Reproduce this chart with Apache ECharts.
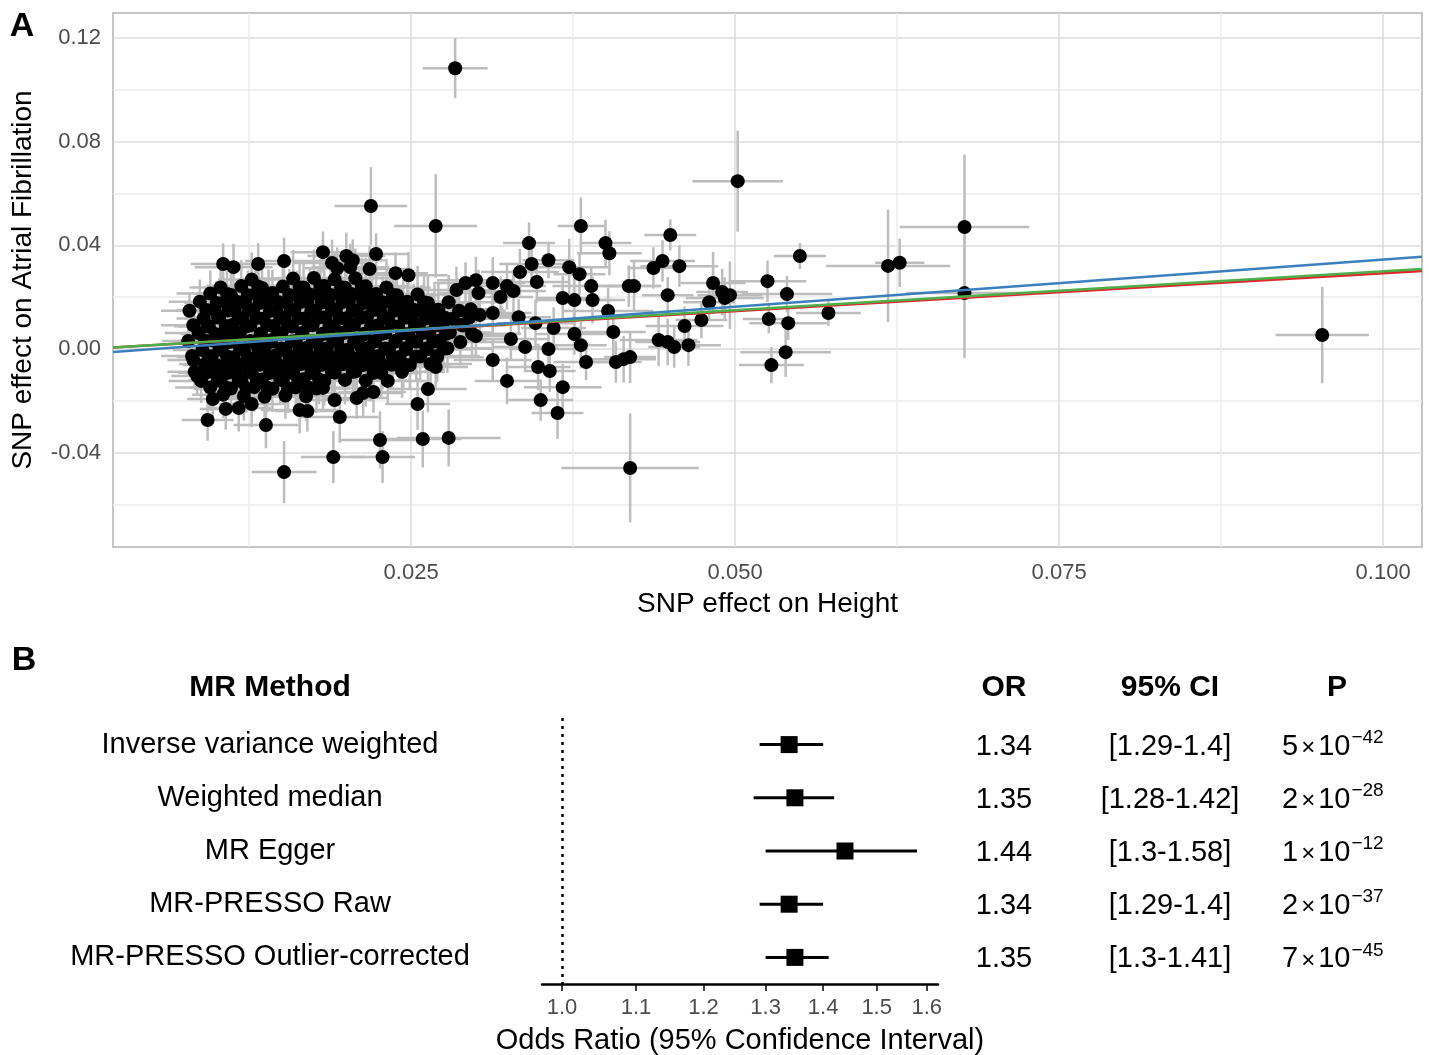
<!DOCTYPE html>
<html>
<head>
<meta charset="utf-8">
<title>MR: height on atrial fibrillation</title>
<script src="https://cdn.jsdelivr.net/npm/echarts@6/dist/echarts.min.js"></script>
<style>
  html, body { margin: 0; padding: 0; background: #fff; }
  #chart { width: 1429px; height: 1055px; }
</style>
</head>
<body>
<div id="chart"></div>
<script>
// ---- panel A: per-SNP effects ----
// isolated points first, then the dense cloud column by column
const snpX = [
  0.0284, 0.0502, 0.0269, 0.0381, 0.0341, 0.0343, 0.0356, 0.0347, 0.0334, 0.0400,
  0.0403, 0.0372, 0.0380, 0.0389, 0.0390, 0.0367, 0.0376, 0.0418, 0.0422, 0.0402,
  0.0437, 0.0444, 0.0450, 0.0457, 0.0448, 0.0483, 0.0490, 0.0496, 0.0492, 0.0480,
  0.0525, 0.0550, 0.0540, 0.0572, 0.0526, 0.0541, 0.0539, 0.0528, 0.0474, 0.0461,
  0.0464, 0.0441, 0.0448, 0.0453, 0.0406, 0.0376, 0.0381, 0.0385, 0.0408, 0.0414,
  0.0419, 0.0360, 0.0346, 0.0333, 0.0327, 0.0338, 0.0356, 0.0348, 0.0357, 0.0367,
  0.0350, 0.0363, 0.0313, 0.0324, 0.0263, 0.0255, 0.0259, 0.0279, 0.0419, 0.0300,
  0.0289, 0.0302, 0.0296, 0.0303, 0.0313, 0.0324, 0.0329, 0.0313, 0.0319, 0.0300,
  0.0292, 0.0285, 0.0248, 0.0269, 0.0677, 0.0677, 0.0953, 0.0618, 0.0627, 0.0219,
  0.0152, 0.0190, 0.0226, 0.0228, 0.0093, 0.0138, 0.0195, 0.0107, 0.0117, 0.0097,
  0.0127, 0.0164, 0.0170, 0.0191, 0.0208, 0.0213, 0.0221, 0.0232, 0.0085, 0.0082,
  0.0105, 0.0113, 0.0132, 0.0152, 0.0182, 0.0189, 0.0193, 0.0200, 0.0205, 0.0203,
  0.0223, 0.0218, 0.0238, 0.0182,
  0.0079, 0.0082, 0.0078, 0.0081, 0.0083,
  0.0087, 0.0090, 0.0086, 0.0089, 0.0091, 0.0088,
  0.0095, 0.0098, 0.0094, 0.0097, 0.0096, 0.0099, 0.0095,
  0.0103, 0.0106, 0.0102, 0.0105, 0.0104, 0.0107, 0.0103, 0.0105,
  0.0111, 0.0114, 0.0112, 0.0110, 0.0113, 0.0115, 0.0111,
  0.0119, 0.0122, 0.0120, 0.0118, 0.0121, 0.0123, 0.0119, 0.0121,
  0.0127, 0.0130, 0.0128, 0.0126, 0.0129, 0.0131, 0.0127, 0.0129,
  0.0135, 0.0138, 0.0136, 0.0134, 0.0137, 0.0139, 0.0135, 0.0137,
  0.0143, 0.0146, 0.0144, 0.0142, 0.0145, 0.0147, 0.0143,
  0.0151, 0.0154, 0.0152, 0.0150, 0.0153, 0.0155, 0.0151, 0.0153,
  0.0159, 0.0162, 0.0160, 0.0158, 0.0161, 0.0163, 0.0159, 0.0161,
  0.0167, 0.0170, 0.0168, 0.0166, 0.0169, 0.0171, 0.0167, 0.0169,
  0.0175, 0.0178, 0.0176, 0.0174, 0.0177, 0.0179, 0.0175, 0.0177,
  0.0183, 0.0186, 0.0184, 0.0182, 0.0185, 0.0187, 0.0183,
  0.0191, 0.0194, 0.0192, 0.0190, 0.0193, 0.0195, 0.0191,
  0.0199, 0.0202, 0.0200, 0.0198, 0.0201, 0.0203, 0.0199,
  0.0207, 0.0210, 0.0208, 0.0206, 0.0209, 0.0211, 0.0207,
  0.0215, 0.0218, 0.0216, 0.0214, 0.0217, 0.0219, 0.0215,
  0.0223, 0.0226, 0.0224, 0.0222, 0.0225, 0.0227,
  0.0231, 0.0234, 0.0232, 0.0230, 0.0233, 0.0235,
  0.0239, 0.0242, 0.0240, 0.0238, 0.0241, 0.0243,
  0.0247, 0.0250, 0.0248, 0.0246, 0.0249,
  0.0255, 0.0258, 0.0256, 0.0254, 0.0257,
  0.0263, 0.0266, 0.0264, 0.0262, 0.0265,
  0.0271, 0.0274, 0.0272, 0.0270,
  0.0279, 0.0282, 0.0280, 0.0278,
  0.0287, 0.0290, 0.0288,
  0.0295, 0.0297,
  0.0092, 0.0093, 0.0091, 0.0094, 0.0092,
  0.0100, 0.0101, 0.0099, 0.0102, 0.0100, 0.0101,
  0.0108, 0.0109, 0.0107, 0.0110, 0.0108, 0.0109, 0.0107,
  0.0116, 0.0117, 0.0115, 0.0118, 0.0116, 0.0117,
  0.0124, 0.0125, 0.0123, 0.0126, 0.0124, 0.0125, 0.0123,
  0.0132, 0.0133, 0.0131, 0.0134, 0.0132, 0.0133, 0.0131,
  0.0140, 0.0141, 0.0139, 0.0142, 0.0140, 0.0141, 0.0139,
  0.0148, 0.0149, 0.0147, 0.0150, 0.0148, 0.0149,
  0.0156, 0.0157, 0.0155, 0.0158, 0.0156, 0.0157, 0.0155,
  0.0164, 0.0165, 0.0163, 0.0166, 0.0164, 0.0165, 0.0163,
  0.0172, 0.0173, 0.0171, 0.0174, 0.0172, 0.0173, 0.0171,
  0.0180, 0.0181, 0.0179, 0.0182, 0.0180, 0.0181, 0.0179,
  0.0188, 0.0189, 0.0187, 0.0190, 0.0188, 0.0189,
  0.0196, 0.0197, 0.0195, 0.0198, 0.0196, 0.0197,
  0.0204, 0.0205, 0.0203, 0.0206, 0.0204, 0.0205,
  0.0212, 0.0213, 0.0211, 0.0214, 0.0212, 0.0213,
  0.0220, 0.0221, 0.0219, 0.0222, 0.0220, 0.0221,
  0.0228, 0.0229, 0.0227, 0.0230, 0.0228,
  0.0236, 0.0237, 0.0235, 0.0238, 0.0236,
  0.0244, 0.0245, 0.0243, 0.0246, 0.0244,
  0.0252, 0.0253, 0.0251, 0.0254,
  0.0260, 0.0261, 0.0259, 0.0262,
  0.0268, 0.0269, 0.0267, 0.0270,
  0.0276, 0.0277, 0.0275
];
const snpY = [
  0.1084, 0.0648, 0.0475, 0.0475, 0.0409, 0.0328, 0.0343, 0.0259, 0.0297, 0.0409,
  0.0370, 0.0316, 0.0289, 0.0243, 0.0189, 0.0197, 0.0189, 0.0243, 0.0243, 0.0147,
  0.0313, 0.0340, 0.0440, 0.0320, 0.0208, 0.0255, 0.0220, 0.0208, 0.0197, 0.0181,
  0.0262, 0.0359, 0.0212, 0.0139, 0.0116, 0.0100, -0.0012, -0.0062, 0.0112, 0.0089,
  0.0015, 0.0035, 0.0027, 0.0008, 0.0066, 0.0058, 0.0015, -0.0050, -0.0050, -0.0039,
  -0.0031, 0.0081, 0.0100, 0.0123, 0.0039, 0.0008, 0.0000, -0.0069, -0.0085, -0.0147,
  -0.0197, -0.0247, -0.0042, -0.0123, -0.0154, -0.0212, -0.0347, -0.0343, -0.0459, 0.0050,
  0.0093, 0.0216, 0.0154, 0.0131, 0.0255, 0.0243, 0.0224, 0.0139, 0.0201, 0.0266,
  0.0255, 0.0228, 0.0285, -0.0069, 0.0471, 0.0216, 0.0054, 0.0321, 0.0333, 0.0552,
  -0.0475, -0.0417, -0.0351, -0.0417, -0.0274, -0.0293, -0.0262, -0.0231, -0.0228, -0.0193,
  -0.0212, -0.0235, -0.0239, -0.0197, -0.0189, -0.0170, -0.0166, -0.0123, -0.0104, -0.0042,
  0.0328, 0.0316, 0.0328, 0.0340, 0.0374, 0.0332, 0.0312, 0.0359, 0.0343, 0.0316,
  0.0367, 0.0309, 0.0293, -0.0150,
  0.0148, 0.0092, 0.0031, -0.0027, -0.0088,
  0.0183, 0.0118, 0.0062, -0.0004, -0.0058, -0.0123,
  0.0214, 0.0152, 0.0087, 0.0033, -0.0028, -0.0094, -0.0148,
  0.0238, 0.0181, 0.0124, 0.0058, 0.0003, -0.0062, -0.0118, -0.0176,
  0.0209, 0.0147, 0.0093, 0.0027, -0.0032, -0.0088, -0.0152,
  0.0243, 0.0178, 0.0121, 0.0063, -0.0004, -0.0057, -0.0124, -0.0181,
  0.0268, 0.0213, 0.0149, 0.0091, 0.0028, -0.0033, -0.0092, -0.0147,
  0.0236, 0.0184, 0.0117, 0.0059, 0.0006, -0.0061, -0.0118, -0.0184,
  0.0216, 0.0148, 0.0089, 0.0034, -0.0026, -0.0089, -0.0153,
  0.0241, 0.0179, 0.0122, 0.0061, -0.0002, -0.0063, -0.0121, -0.0179,
  0.0272, 0.0207, 0.0153, 0.0087, 0.0031, -0.0029, -0.0093, -0.0148,
  0.0238, 0.0183, 0.0118, 0.0062, 0.0004, -0.0059, -0.0117, -0.0182,
  0.0274, 0.0211, 0.0148, 0.0092, 0.0027, -0.0031, -0.0089, -0.0152,
  0.0243, 0.0178, 0.0123, 0.0058, 0.0002, -0.0061, -0.0123,
  0.0269, 0.0212, 0.0151, 0.0088, 0.0033, -0.0028, -0.0091,
  0.0237, 0.0182, 0.0119, 0.0064, -0.0003, -0.0058, -0.0119,
  0.0273, 0.0209, 0.0147, 0.0093, 0.0028, -0.0032, -0.0087,
  0.0242, 0.0177, 0.0124, 0.0057, 0.0004, -0.0062, -0.0122,
  0.0212, 0.0149, 0.0091, 0.0029, -0.0027, -0.0092,
  0.0238, 0.0181, 0.0118, 0.0062, 0.0001, -0.0061,
  0.0208, 0.0153, 0.0087, 0.0032, -0.0031, -0.0088,
  0.0183, 0.0119, 0.0058, 0.0003, -0.0062,
  0.0211, 0.0147, 0.0092, 0.0028, -0.0029,
  0.0178, 0.0123, 0.0061, -0.0002, -0.0058,
  0.0152, 0.0088, 0.0033, -0.0027,
  0.0181, 0.0117, 0.0064, 0.0003,
  0.0148, 0.0091, 0.0027,
  0.0122, 0.0059,
  0.0151, 0.0088, 0.0032, -0.0031, -0.0091,
  0.0178, 0.0122, 0.0058, -0.0003, -0.0062, -0.0121,
  0.0212, 0.0149, 0.0089, 0.0032, -0.0029, -0.0091, -0.0148,
  0.0182, 0.0118, 0.0061, 0.0002, -0.0059, -0.0118,
  0.0208, 0.0152, 0.0088, 0.0031, -0.0032, -0.0087, -0.0151,
  0.0241, 0.0178, 0.0121, 0.0058, 0.0003, -0.0061, -0.0119,
  0.0212, 0.0147, 0.0092, 0.0028, -0.0031, -0.0092, -0.0149,
  0.0181, 0.0121, 0.0059, 0.0002, -0.0062, -0.0118,
  0.0209, 0.0151, 0.0091, 0.0029, -0.0028, -0.0089, -0.0152,
  0.0238, 0.0182, 0.0119, 0.0061, -0.0002, -0.0058, -0.0122,
  0.0211, 0.0148, 0.0092, 0.0031, -0.0029, -0.0091, -0.0149,
  0.0242, 0.0179, 0.0122, 0.0059, 0.0001, -0.0061, -0.0118,
  0.0209, 0.0152, 0.0088, 0.0032, -0.0031, -0.0089,
  0.0239, 0.0181, 0.0118, 0.0062, -0.0002, -0.0059,
  0.0212, 0.0149, 0.0091, 0.0028, -0.0032, -0.0088,
  0.0241, 0.0178, 0.0121, 0.0059, 0.0003, -0.0062,
  0.0208, 0.0151, 0.0089, 0.0031, -0.0028, -0.0092,
  0.0181, 0.0122, 0.0058, 0.0002, -0.0061,
  0.0209, 0.0148, 0.0092, 0.0029, -0.0031,
  0.0178, 0.0121, 0.0061, -0.0001, -0.0058,
  0.0152, 0.0089, 0.0031, -0.0029,
  0.0181, 0.0118, 0.0062, 0.0002,
  0.0149, 0.0092, 0.0028, -0.0032,
  0.0121, 0.0059, 0.0001
];
// standard errors drawn as the grey crosses
const snpSeX = [
  0.0025, 0.0035, 0.0032, 0.0018, 0.0020, 0.0025, 0.0020, 0.0025, 0.0030, 0.0020,
  0.0025, 0.0030, 0.0020, 0.0030, 0.0025, 0.0020, 0.0030, 0.0025, 0.0020, 0.0035,
  0.0020, 0.0025, 0.0020, 0.0030, 0.0020, 0.0025, 0.0020, 0.0025, 0.0030, 0.0020,
  0.0030, 0.0020, 0.0035, 0.0025, 0.0020, 0.0030, 0.0035, 0.0025, 0.0020, 0.0030,
  0.0025, 0.0030, 0.0025, 0.0020, 0.0025, 0.0030, 0.0020, 0.0025, 0.0020, 0.0025,
  0.0020, 0.0025, 0.0030, 0.0025, 0.0030, 0.0025, 0.0030, 0.0025, 0.0020, 0.0030,
  0.0025, 0.0020, 0.0030, 0.0025, 0.0030, 0.0025, 0.0030, 0.0040, 0.0053, 0.0025,
  0.0030, 0.0030, 0.0025, 0.0030, 0.0025, 0.0030, 0.0025, 0.0030, 0.0025, 0.0030,
  0.0025, 0.0030, 0.0030, 0.0025, 0.0050, 0.0045, 0.0036, 0.0048, 0.0019, 0.0028,
  0.0025, 0.0025, 0.0030, 0.0025, 0.0020, 0.0025, 0.0030, 0.0020, 0.0025, 0.0020,
  0.0025, 0.0030, 0.0025, 0.0030, 0.0025, 0.0030, 0.0025, 0.0030, 0.0020, 0.0020,
  0.0025, 0.0030, 0.0025, 0.0030, 0.0025, 0.0030, 0.0025, 0.0030, 0.0025, 0.0030,
  0.0025, 0.0030, 0.0025, 0.0030,
  0.0022, 0.0025, 0.0020, 0.0024, 0.0021,
  0.0024, 0.0021, 0.0026, 0.0023, 0.0020, 0.0025,
  0.0026, 0.0022, 0.0024, 0.0021, 0.0025, 0.0023, 0.0027,
  0.0024, 0.0027, 0.0022, 0.0025, 0.0023, 0.0026, 0.0021, 0.0024,
  0.0025, 0.0022, 0.0028, 0.0024, 0.0026, 0.0023, 0.0025,
  0.0027, 0.0024, 0.0026, 0.0022, 0.0025, 0.0028, 0.0023, 0.0026,
  0.0026, 0.0023, 0.0027, 0.0025, 0.0022, 0.0026, 0.0024, 0.0028,
  0.0028, 0.0025, 0.0023, 0.0027, 0.0024, 0.0026, 0.0029, 0.0025,
  0.0027, 0.0024, 0.0028, 0.0025, 0.0023, 0.0026, 0.0029,
  0.0029, 0.0026, 0.0024, 0.0028, 0.0025, 0.0027, 0.0030, 0.0026,
  0.0028, 0.0025, 0.0029, 0.0026, 0.0024, 0.0027, 0.0030, 0.0025,
  0.0030, 0.0027, 0.0025, 0.0029, 0.0026, 0.0028, 0.0031, 0.0027,
  0.0029, 0.0026, 0.0030, 0.0027, 0.0025, 0.0028, 0.0031, 0.0026,
  0.0031, 0.0028, 0.0026, 0.0030, 0.0027, 0.0029, 0.0032,
  0.0030, 0.0027, 0.0031, 0.0028, 0.0026, 0.0029, 0.0032,
  0.0032, 0.0029, 0.0027, 0.0031, 0.0028, 0.0030, 0.0033,
  0.0031, 0.0028, 0.0032, 0.0029, 0.0027, 0.0030, 0.0033,
  0.0033, 0.0030, 0.0028, 0.0032, 0.0029, 0.0031, 0.0034,
  0.0032, 0.0029, 0.0033, 0.0030, 0.0028, 0.0031,
  0.0034, 0.0031, 0.0029, 0.0033, 0.0030, 0.0032,
  0.0033, 0.0030, 0.0034, 0.0031, 0.0029, 0.0032,
  0.0035, 0.0032, 0.0030, 0.0034, 0.0031,
  0.0034, 0.0031, 0.0035, 0.0032, 0.0030,
  0.0036, 0.0033, 0.0031, 0.0035, 0.0032,
  0.0035, 0.0032, 0.0036, 0.0033,
  0.0037, 0.0034, 0.0032, 0.0036,
  0.0036, 0.0033, 0.0037,
  0.0035, 0.0038,
  0.0023, 0.0026, 0.0021, 0.0025, 0.0022,
  0.0025, 0.0022, 0.0027, 0.0024, 0.0026, 0.0023,
  0.0024, 0.0027, 0.0023, 0.0026, 0.0022, 0.0025, 0.0028,
  0.0026, 0.0023, 0.0028, 0.0025, 0.0022, 0.0027,
  0.0025, 0.0028, 0.0024, 0.0027, 0.0023, 0.0026, 0.0029,
  0.0027, 0.0024, 0.0029, 0.0026, 0.0023, 0.0028, 0.0025,
  0.0026, 0.0029, 0.0025, 0.0028, 0.0024, 0.0027, 0.0030,
  0.0028, 0.0025, 0.0030, 0.0027, 0.0024, 0.0029,
  0.0027, 0.0030, 0.0026, 0.0029, 0.0025, 0.0028, 0.0031,
  0.0029, 0.0026, 0.0031, 0.0028, 0.0025, 0.0030, 0.0027,
  0.0028, 0.0031, 0.0027, 0.0030, 0.0026, 0.0029, 0.0032,
  0.0030, 0.0027, 0.0032, 0.0029, 0.0026, 0.0031, 0.0028,
  0.0029, 0.0032, 0.0028, 0.0031, 0.0027, 0.0030,
  0.0031, 0.0028, 0.0033, 0.0030, 0.0027, 0.0032,
  0.0030, 0.0033, 0.0029, 0.0032, 0.0028, 0.0031,
  0.0032, 0.0029, 0.0034, 0.0031, 0.0028, 0.0033,
  0.0031, 0.0034, 0.0030, 0.0033, 0.0029, 0.0032,
  0.0033, 0.0030, 0.0035, 0.0032, 0.0029,
  0.0032, 0.0035, 0.0031, 0.0034, 0.0030,
  0.0034, 0.0031, 0.0036, 0.0033, 0.0030,
  0.0033, 0.0036, 0.0032, 0.0035,
  0.0035, 0.0032, 0.0037, 0.0034,
  0.0034, 0.0037, 0.0033, 0.0036,
  0.0036, 0.0033, 0.0037
];
const snpSeY = [
  0.0116, 0.0195, 0.0200, 0.0110, 0.0080, 0.0090, 0.0070, 0.0080, 0.0090, 0.0090,
  0.0085, 0.0110, 0.0080, 0.0070, 0.0090, 0.0085, 0.0100, 0.0080, 0.0100, 0.0090,
  0.0080, 0.0080, 0.0060, 0.0080, 0.0070, 0.0120, 0.0090, 0.0130, 0.0080, 0.0070,
  0.0080, 0.0050, 0.0070, 0.0050, 0.0055, 0.0065, 0.0095, 0.0070, 0.0070, 0.0075,
  0.0080, 0.0100, 0.0090, 0.0080, 0.0090, 0.0080, 0.0090, 0.0070, 0.0080, 0.0090,
  0.0100, 0.0080, 0.0090, 0.0070, 0.0080, 0.0090, 0.0080, 0.0090, 0.0080, 0.0090,
  0.0080, 0.0100, 0.0080, 0.0090, 0.0090, 0.0100, 0.0110, 0.0110, 0.0210, 0.0080,
  0.0090, 0.0090, 0.0080, 0.0090, 0.0100, 0.0090, 0.0080, 0.0090, 0.0080, 0.0090,
  0.0080, 0.0090, 0.0090, 0.0080, 0.0280, 0.0250, 0.0186, 0.0217, 0.0093, 0.0150,
  0.0120, 0.0100, 0.0110, 0.0100, 0.0080, 0.0090, 0.0100, 0.0080, 0.0090, 0.0080,
  0.0090, 0.0090, 0.0080, 0.0090, 0.0080, 0.0090, 0.0080, 0.0090, 0.0070, 0.0070,
  0.0080, 0.0090, 0.0080, 0.0090, 0.0080, 0.0090, 0.0080, 0.0090, 0.0080, 0.0090,
  0.0080, 0.0090, 0.0080, 0.0090,
  0.0070, 0.0080, 0.0075, 0.0085, 0.0070,
  0.0085, 0.0070, 0.0090, 0.0080, 0.0075, 0.0085,
  0.0090, 0.0075, 0.0080, 0.0085, 0.0070, 0.0080, 0.0090,
  0.0095, 0.0080, 0.0085, 0.0075, 0.0090, 0.0080, 0.0085, 0.0090,
  0.0085, 0.0090, 0.0075, 0.0080, 0.0085, 0.0090, 0.0080,
  0.0100, 0.0085, 0.0080, 0.0090, 0.0075, 0.0085, 0.0090, 0.0095,
  0.0105, 0.0090, 0.0085, 0.0080, 0.0090, 0.0085, 0.0080, 0.0095,
  0.0095, 0.0090, 0.0080, 0.0085, 0.0075, 0.0090, 0.0085, 0.0095,
  0.0090, 0.0085, 0.0080, 0.0090, 0.0075, 0.0085, 0.0090,
  0.0100, 0.0090, 0.0085, 0.0080, 0.0090, 0.0085, 0.0095, 0.0090,
  0.0110, 0.0095, 0.0085, 0.0090, 0.0080, 0.0085, 0.0090, 0.0095,
  0.0105, 0.0090, 0.0085, 0.0080, 0.0090, 0.0085, 0.0090, 0.0095,
  0.0110, 0.0095, 0.0090, 0.0085, 0.0080, 0.0090, 0.0085, 0.0095,
  0.0105, 0.0095, 0.0085, 0.0090, 0.0080, 0.0090, 0.0095,
  0.0110, 0.0100, 0.0090, 0.0085, 0.0080, 0.0090, 0.0095,
  0.0105, 0.0095, 0.0090, 0.0085, 0.0090, 0.0085, 0.0095,
  0.0115, 0.0100, 0.0090, 0.0085, 0.0090, 0.0085, 0.0095,
  0.0110, 0.0095, 0.0090, 0.0085, 0.0090, 0.0085, 0.0100,
  0.0100, 0.0095, 0.0085, 0.0090, 0.0085, 0.0095,
  0.0110, 0.0100, 0.0090, 0.0085, 0.0090, 0.0095,
  0.0105, 0.0095, 0.0090, 0.0085, 0.0090, 0.0100,
  0.0100, 0.0095, 0.0090, 0.0085, 0.0095,
  0.0110, 0.0100, 0.0090, 0.0095, 0.0090,
  0.0105, 0.0095, 0.0090, 0.0090, 0.0095,
  0.0100, 0.0095, 0.0090, 0.0095,
  0.0105, 0.0100, 0.0090, 0.0095,
  0.0100, 0.0095, 0.0090,
  0.0100, 0.0095,
  0.0080, 0.0075, 0.0085, 0.0080, 0.0090,
  0.0085, 0.0080, 0.0090, 0.0075, 0.0085, 0.0090,
  0.0090, 0.0085, 0.0080, 0.0090, 0.0085, 0.0080, 0.0095,
  0.0085, 0.0090, 0.0080, 0.0085, 0.0090, 0.0085,
  0.0095, 0.0085, 0.0090, 0.0080, 0.0085, 0.0090, 0.0095,
  0.0100, 0.0090, 0.0085, 0.0080, 0.0090, 0.0085, 0.0090,
  0.0095, 0.0085, 0.0090, 0.0085, 0.0080, 0.0090, 0.0095,
  0.0090, 0.0085, 0.0080, 0.0090, 0.0085, 0.0090,
  0.0100, 0.0090, 0.0085, 0.0080, 0.0090, 0.0085, 0.0095,
  0.0105, 0.0095, 0.0085, 0.0090, 0.0080, 0.0090, 0.0095,
  0.0100, 0.0090, 0.0085, 0.0090, 0.0085, 0.0080, 0.0095,
  0.0105, 0.0095, 0.0090, 0.0085, 0.0090, 0.0085, 0.0095,
  0.0100, 0.0090, 0.0085, 0.0090, 0.0085, 0.0095,
  0.0105, 0.0095, 0.0090, 0.0085, 0.0090, 0.0095,
  0.0100, 0.0095, 0.0085, 0.0090, 0.0085, 0.0095,
  0.0110, 0.0095, 0.0090, 0.0085, 0.0090, 0.0095,
  0.0100, 0.0095, 0.0090, 0.0085, 0.0090, 0.0095,
  0.0100, 0.0090, 0.0085, 0.0090, 0.0095,
  0.0105, 0.0095, 0.0090, 0.0085, 0.0090,
  0.0100, 0.0095, 0.0090, 0.0090, 0.0095,
  0.0100, 0.0090, 0.0085, 0.0095,
  0.0105, 0.0095, 0.0090, 0.0090,
  0.0100, 0.0095, 0.0090, 0.0095,
  0.0095, 0.0090, 0.0095
];

// ---- panel B: MR estimates ----
const methodNames = ['Inverse variance weighted', 'Weighted median', 'MR Egger', 'MR-PRESSO Raw', 'MR-PRESSO Outlier-corrected'];
const orVals = [1.34, 1.35, 1.44, 1.34, 1.35];
const ciLow = [1.29, 1.28, 1.30, 1.29, 1.30];
const ciHigh = [1.40, 1.42, 1.58, 1.40, 1.41];
const pMant = [5, 2, 1, 2, 7];
const pExp = [-42, -28, -12, -37, -45];
const orTicks = [1.0, 1.1, 1.2, 1.3, 1.4, 1.5, 1.6];

// fitted lines in panel A: IVW (red), weighted median (green), MR Egger (blue)
const fitMethod = [0, 1, 2];
const fitIntercept = [0, 0, -0.0019];
const fitColor = ['#e3262b', '#4dae4a', '#3c7fbd'];

const xTicks = [0.025, 0.050, 0.075, 0.100];
const xGrid = [0.0125, 0.025, 0.0375, 0.05, 0.0625, 0.075, 0.0875, 0.1];
const yTicks = [-0.04, 0.00, 0.04, 0.08, 0.12];
const yGrid = [-0.06, -0.04, -0.02, 0, 0.02, 0.04, 0.06, 0.08, 0.10, 0.12];

const xMin = 0.0020, xMax = 0.1030;
const yMin = -0.0764, yMax = 0.1297;

const FONT = '"Liberation Sans", Arial, Helvetica, sans-serif';
const chart = echarts.init(document.getElementById('chart'));

const errData = snpX.map((x, i) => [x, snpY[i], snpSeX[i], snpSeY[i]]);
const pointData = snpX.map((x, i) => [x, snpY[i]]);

const fitSeries = fitMethod.map((m, k) => {
  const b = Math.log(orVals[m]);
  return {
    type: 'line',
    name: methodNames[m],
    xAxisIndex: 0, yAxisIndex: 0,
    symbol: 'none',
    silent: true,
    z: 5,
    lineStyle: { color: fitColor[k], width: 2.5 },
    data: [[xMin, fitIntercept[k] + b * xMin], [xMax, fitIntercept[k] + b * xMax]]
  };
});

const option = {
  animation: false,
  backgroundColor: '#fff',
  textStyle: { fontFamily: FONT },
  grid: [
    { left: 113, right: 7, top: 13, bottom: 508, show: true, borderColor: '#b3b3b3', borderWidth: 1.5, outerBoundsMode: 'none' },
    { left: 542, right: 491, top: 718, bottom: 71, outerBoundsMode: 'none' }
  ],
  xAxis: [
    {
      gridIndex: 0, type: 'value', min: xMin, max: xMax,
      name: 'SNP effect on Height', nameLocation: 'middle', nameGap: 43,
      nameTextStyle: { fontSize: 28, color: '#000' },
      axisLine: { show: false },
      axisTick: { show: false, customValues: xGrid },
      axisLabel: { customValues: xTicks, formatter: v => v.toFixed(3), fontSize: 22, color: '#4d4d4d', margin: 15 },
      splitLine: { show: true, lineStyle: { color: ['#ededed', '#dcdcdc'], width: 1.5 } }
    },
    {
      gridIndex: 1, type: 'value', min: -0.0258, max: 0.4845,
      name: 'Odds Ratio (95% Confidence Interval)', nameLocation: 'middle', nameGap: 42,
      nameTextStyle: { fontSize: 29, color: '#000' },
      axisLine: { show: true, onZero: false, lineStyle: { color: '#000', width: 2.5 } },
      axisTick: { show: true, length: 7, customValues: orTicks.map(Math.log), lineStyle: { color: '#000', width: 1.5 } },
      axisLabel: { customValues: orTicks.map(Math.log), formatter: v => Math.exp(v).toFixed(1), fontSize: 22, color: '#4d4d4d', margin: 13 },
      splitLine: { show: false }
    }
  ],
  yAxis: [
    {
      gridIndex: 0, type: 'value', min: yMin, max: yMax,
      name: 'SNP effect on Atrial Fibrillation', nameLocation: 'middle', nameGap: 76,
      nameTextStyle: { fontSize: 28, color: '#000' },
      axisLine: { show: false },
      axisTick: { show: false, customValues: yGrid },
      axisLabel: { customValues: yTicks, formatter: v => v.toFixed(2), fontSize: 22, color: '#4d4d4d', margin: 12 },
      splitLine: { show: true, lineStyle: { color: ['#ededed', '#dcdcdc'], width: 1.5 } }
    },
    {
      gridIndex: 1, type: 'category', data: methodNames, inverse: true,
      axisLine: { show: false }, axisTick: { show: false }, splitLine: { show: false },
      axisLabel: { align: 'center', margin: 272, fontSize: 29, color: '#000' }
    },
    {
      gridIndex: 1, type: 'category', data: methodNames, inverse: true, position: 'right',
      axisLine: { show: false }, axisTick: { show: false }, splitLine: { show: false },
      axisLabel: {
        align: 'left', margin: 0, color: '#000',
        formatter: (v, i) => '{or|' + orVals[i].toFixed(2) + '}' +
          '{ci|[' + ciLow[i] + '-' + ciHigh[i] + ']}' +
          '{pm|' + pMant[i] + '}{x|\u00d7}{p|10}{sup|\u2212' + Math.abs(pExp[i]) + '}',
        rich: {
          or: { width: 132, align: 'center', fontSize: 29, verticalAlign: 'bottom' },
          ci: { width: 200, align: 'center', fontSize: 29, verticalAlign: 'bottom' },
          pm: { fontSize: 29, padding: [0, 0, 0, 12], verticalAlign: 'bottom' },
          x: { fontSize: 24, padding: [0, 3, 1, 3], verticalAlign: 'bottom' },
          p: { fontSize: 29, verticalAlign: 'bottom' },
          sup: { fontSize: 19, padding: [0, 0, 14, 1], verticalAlign: 'bottom' }
        }
      }
    }
  ],
  series: [
    {
      type: 'custom',
      name: 'SE',
      xAxisIndex: 0, yAxisIndex: 0,
      clip: true, silent: true, z: 2,
      encode: { x: 0, y: 1 },
      data: errData,
      renderItem: (params, api) => {
        const x = api.value(0), y = api.value(1), sx = api.value(2), sy = api.value(3);
        const l = api.coord([x - sx, y]), r = api.coord([x + sx, y]);
        const t = api.coord([x, y + sy]), b = api.coord([x, y - sy]);
        const style = { stroke: '#bdbdbd', lineWidth: 2.5 };
        return {
          type: 'group',
          children: [
            { type: 'line', shape: { x1: l[0], y1: l[1], x2: r[0], y2: r[1] }, style },
            { type: 'line', shape: { x1: t[0], y1: t[1], x2: b[0], y2: b[1] }, style }
          ]
        };
      }
    },
    {
      type: 'scatter',
      name: 'SNPs',
      xAxisIndex: 0, yAxisIndex: 0,
      symbolSize: 14, z: 3, silent: true,
      itemStyle: { color: '#000', opacity: 1 },
      data: pointData
    },
    ...fitSeries,
    {
      type: 'custom',
      name: 'CI',
      xAxisIndex: 1, yAxisIndex: 1,
      silent: true,
      encode: { x: [0, 1], y: 2 },
      data: methodNames.map((m, i) => [Math.log(ciLow[i]), Math.log(ciHigh[i]), i]),
      renderItem: (params, api) => {
        const row = api.value(2);
        const a = api.coord([api.value(0), row]);
        const b = api.coord([api.value(1), row]);
        return { type: 'line', shape: { x1: a[0], y1: a[1], x2: b[0], y2: b[1] }, style: { stroke: '#000', lineWidth: 3 } };
      }
    },
    {
      type: 'scatter',
      name: 'OR',
      xAxisIndex: 1, yAxisIndex: 1,
      symbol: 'rect', symbolSize: 17, silent: true,
      itemStyle: { color: '#000', opacity: 1 },
      data: methodNames.map((m, i) => [Math.log(orVals[i]), m]),
      markLine: {
        silent: true, symbol: 'none', label: { show: false },
        lineStyle: { color: '#000', type: [3, 5], width: 2.5 },
        data: [{ xAxis: 0 }]
      }
    }
  ],
  graphic: [
    { type: 'text', x: 22, y: 27, style: { text: 'A', font: 'bold 34px ' + FONT, fill: '#000', align: 'center', verticalAlign: 'middle' } },
    { type: 'text', x: 24, y: 661, style: { text: 'B', font: 'bold 34px ' + FONT, fill: '#000', align: 'center', verticalAlign: 'middle' } },
    { type: 'text', x: 270, y: 688, style: { text: 'MR Method', font: 'bold 30px ' + FONT, fill: '#000', align: 'center', verticalAlign: 'middle' } },
    { type: 'text', x: 1004, y: 688, style: { text: 'OR', font: 'bold 30px ' + FONT, fill: '#000', align: 'center', verticalAlign: 'middle' } },
    { type: 'text', x: 1170, y: 688, style: { text: '95% CI', font: 'bold 30px ' + FONT, fill: '#000', align: 'center', verticalAlign: 'middle' } },
    { type: 'text', x: 1337, y: 688, style: { text: 'P', font: 'bold 30px ' + FONT, fill: '#000', align: 'center', verticalAlign: 'middle' } }
  ]
};

chart.setOption(option);
</script>
</body>
</html>
